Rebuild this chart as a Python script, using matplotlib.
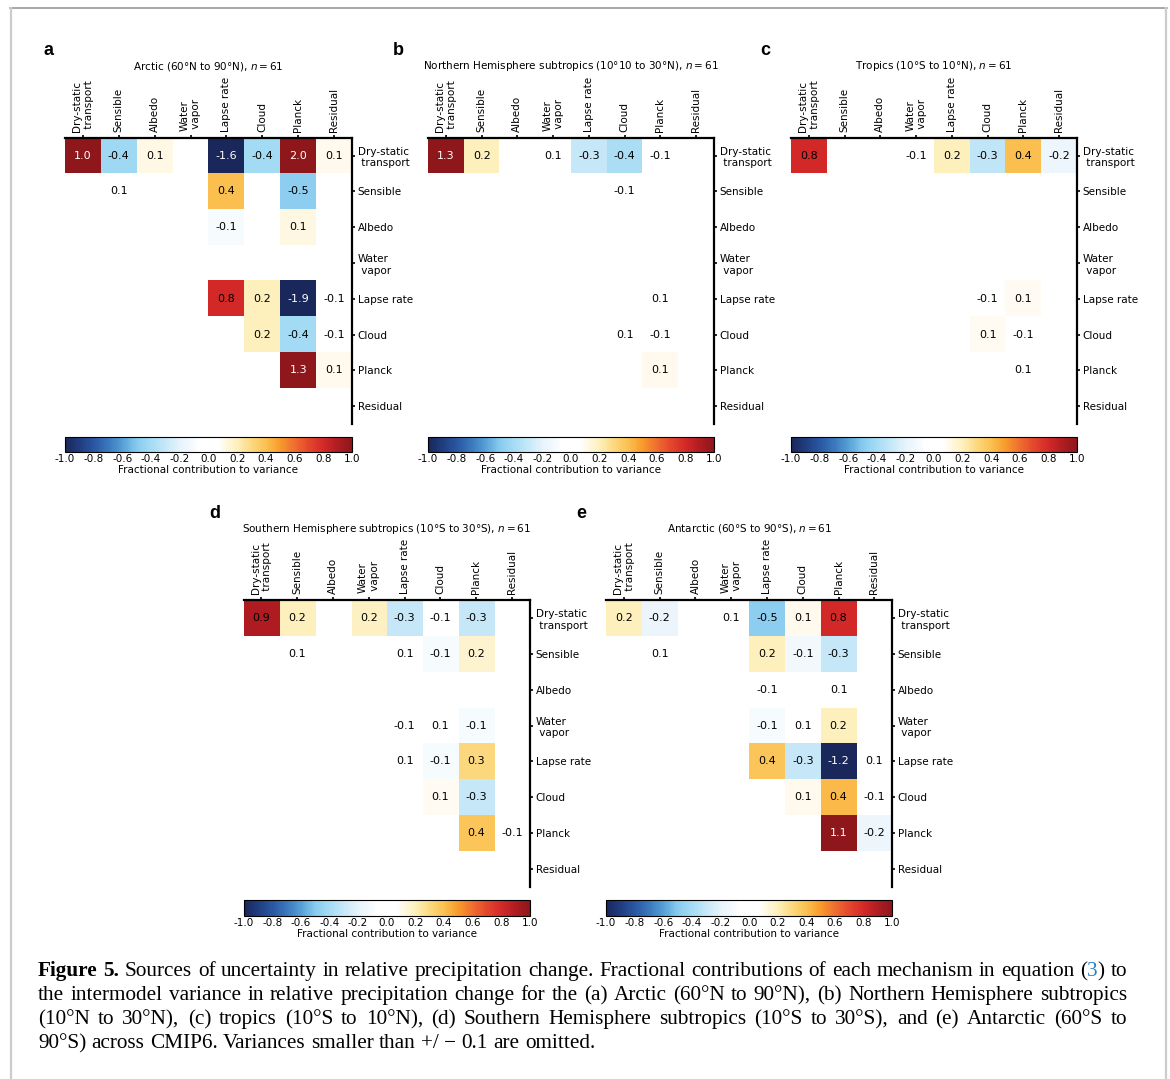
import numpy as np
import matplotlib
matplotlib.use("Agg")
import matplotlib.pyplot as plt
from matplotlib.colors import LinearSegmentedColormap, Normalize
from matplotlib.cm import ScalarMappable
from matplotlib.lines import Line2D

plt.rcParams["font.family"] = ["DejaVu Sans"]
plt.rcParams["mathtext.fontset"] = "dejavusans"

# ---------------- data ----------------
mechanisms = ["Dry-static\n transport", "Sensible", "Albedo", "Water\n vapor",
              "Lapse rate", "Cloud", "Planck", "Residual"]

N = None
arctic = [
    [1.0, -0.42, 0.11, N, -1.6, -0.4, 2.0, 0.1],
    [N, 0.06, N, N, 0.4, N, -0.48, N],
    [N, N, N, N, -0.1, N, 0.12, N],
    [N, N, N, N, N, N, N, N],
    [N, N, N, N, 0.8, 0.2, -1.9, -0.06],
    [N, N, N, N, N, 0.2, -0.4, -0.06],
    [N, N, N, N, N, N, 1.3, 0.1],
    [N, N, N, N, N, N, N, N],
]
nh_subtropics = [
    [1.3, 0.2, N, 0.06, -0.3, -0.38, -0.06, N],
    [N, N, N, N, N, -0.06, N, N],
    [N, N, N, N, N, N, N, N],
    [N, N, N, N, N, N, N, N],
    [N, N, N, N, N, N, 0.06, N],
    [N, N, N, N, N, 0.06, -0.06, N],
    [N, N, N, N, N, N, 0.1, N],
    [N, N, N, N, N, N, N, N],
]
tropics = [
    [0.8, N, N, -0.06, 0.2, -0.32, 0.4, -0.16],
    [N, N, N, N, N, N, N, N],
    [N, N, N, N, N, N, N, N],
    [N, N, N, N, N, N, N, N],
    [N, N, N, N, N, -0.06, 0.09, N],
    [N, N, N, N, N, 0.09, -0.06, N],
    [N, N, N, N, N, N, 0.06, N],
    [N, N, N, N, N, N, N, N],
]
sh_subtropics = [
    [0.9, 0.2, N, 0.18, -0.3, -0.06, -0.3, N],
    [N, 0.06, N, N, 0.06, -0.1, 0.16, N],
    [N, N, N, N, N, N, N, N],
    [N, N, N, N, -0.06, 0.06, -0.1, N],
    [N, N, N, N, 0.06, -0.1, 0.3, N],
    [N, N, N, N, N, 0.09, -0.3, N],
    [N, N, N, N, N, N, 0.38, -0.06],
    [N, N, N, N, N, N, N, N],
]
antarctic = [
    [0.2, -0.17, N, 0.06, -0.48, 0.1, 0.8, N],
    [N, 0.06, N, N, 0.2, -0.12, -0.3, N],
    [N, N, N, N, -0.06, N, 0.06, N],
    [N, N, N, N, -0.1, 0.06, 0.2, N],
    [N, N, N, N, 0.38, -0.3, -1.2, 0.06],
    [N, N, N, N, N, 0.1, 0.42, -0.06],
    [N, N, N, N, N, N, 1.1, -0.16],
    [N, N, N, N, N, N, N, N],
]

titles = [
    "Arctic (60°N to 90°N), $n=61$",
    "Northern Hemisphere subtropics (10°10 to 30°N), $n=61$",
    "Tropics (10°S to 10°N), $n=61$",
    "Southern Hemisphere subtropics (10°S to 30°S), $n=61$",
    "Antarctic (60°S to 90°S), $n=61$",
]
letters = ["a", "b", "c", "d", "e"]
cbar_ticks = [-1.0, -0.8, -0.6, -0.4, -0.2, 0.0, 0.2, 0.4, 0.6, 0.8, 1.0]
cbar_label = "Fractional contribution to variance"

caption_line1 = ("Sources of uncertainty in relative precipitation change. Fractional "
                 "contributions of each mechanism in equation")
caption_lines = [
    "the intermodel variance in relative precipitation change for the (a) Arctic (60°N to 90°N), (b) Northern Hemisphere subtropics",
    "(10°N to 30°N), (c) tropics (10°S to 10°N), (d) Southern Hemisphere subtropics (10°S to 30°S), and (e) Antarctic (60°S to",
    "90°S) across CMIP6. Variances smaller than +/ − 0.1 are omitted.",
]

# ---------------- colormap ----------------
anchors = [(-1.0, "#1a275a"), (-0.9, "#203d80"), (-0.8, "#2a57a2"), (-0.7, "#3a78bd"),
           (-0.6, "#55a0d6"), (-0.5, "#88cbee"), (-0.4, "#a5dcf5"), (-0.3, "#c6e8f8"),
           (-0.2, "#e6f3fb"), (-0.1, "#f6fbfe"), (-0.07, "#ffffff"), (0.07, "#ffffff"),
           (0.1, "#fffaec"), (0.2, "#fdf0bd"), (0.3, "#fcd97f"), (0.4, "#fbc150"),
           (0.5, "#f89b2c"), (0.6, "#ef6f2f"), (0.7, "#e4472c"), (0.8, "#d42a29"),
           (0.9, "#b01d22"), (1.0, "#8e171c")]
cmap = LinearSegmentedColormap.from_list("bwor", [((v + 1) / 2, c) for v, c in anchors])
norm = Normalize(vmin=-1, vmax=1)

# ---------------- figure ----------------
W, H = 1170, 1079
fig = plt.figure(figsize=(W / 100, H / 100), dpi=100)


def box(l, t, r, b):
    return [l / W, 1 - b / H, (r - l) / W, (b - t) / H]


panels = [
    (arctic, (65, 137.7, 352, 424), (437, 452)),
    (nh_subtropics, (428, 137.7, 714, 424), (437, 452)),
    (tropics, (791, 137.7, 1077, 424), (437, 452)),
    (sh_subtropics, (243.5, 600, 530, 887), (900, 915.5)),
    (antarctic, (606, 600, 892.3, 887), (900, 915.5)),
]
letter_pos = [(48.5, 50.5), (398, 50.5), (765, 50.5), (214.5, 514), (581, 514)]

for k, (mat, (l, t, r, b), (ct, cb)) in enumerate(panels):
    arr = np.array([[np.nan if v is None else v for v in row] for row in mat], dtype=float)
    ax = fig.add_axes(box(l, t, r, b))
    ax.imshow(np.ma.masked_invalid(arr), cmap=cmap, norm=norm, aspect="auto",
              interpolation="nearest", extent=(-0.5, 7.5, 7.5, -0.5))
    ax.set_xlim(-0.5, 7.5)
    ax.set_ylim(7.5, -0.5)
    for i in range(8):
        for j in range(8):
            v = arr[i, j]
            if np.isnan(v):
                continue
            col = "white" if abs(v) >= 0.95 else "black"
            ax.text(j, i, f"{v:.1f}", ha="center", va="center", fontsize=8, color=col)
    ax.spines["left"].set_visible(False)
    ax.spines["bottom"].set_visible(False)
    ax.spines["top"].set_linewidth(1.6)
    ax.spines["right"].set_linewidth(1.6)
    ax.xaxis.tick_top()
    ax.yaxis.tick_right()
    ax.set_xticks(range(8))
    ax.set_yticks(range(8))
    ax.set_xticklabels(mechanisms)
    ax.set_yticklabels(mechanisms)
    ax.tick_params(axis="x", labelrotation=90, length=2.5, width=1.2, pad=1.5, labelsize=7.5)
    ax.tick_params(axis="y", length=2.5, width=1.2, pad=1.5, labelsize=7.5)

    # colorbar
    cax = fig.add_axes(box(l, ct, r, cb))
    cbar = fig.colorbar(ScalarMappable(norm=norm, cmap=cmap), cax=cax,
                        orientation="horizontal", ticks=cbar_ticks)
    cbar.ax.set_xticklabels([f"{tv:.1f}" for tv in cbar_ticks])
    cbar.ax.tick_params(length=0, pad=1.5, labelsize=7.5)
    cbar.outline.set_linewidth(0.8)
    cbar.set_label(cbar_label, fontsize=7.5, labelpad=1)

    fig.text(((l + r) / 2) / W, 1 - (t - 71.5) / H, titles[k], ha="center", va="center",
             fontsize=7.5)
    lx, ly = letter_pos[k]
    fig.text(lx / W, 1 - ly / H, letters[k], ha="center", va="center", fontsize=13,
             fontweight="bold", family=["Liberation Sans", "DejaVu Sans"])

# ---------------- frame ----------------
fig.add_artist(Line2D([10 / W, 1167 / W], [1 - 8 / H, 1 - 8 / H], transform=fig.transFigure,
                      color="#9a9a9a", lw=1.2))
fig.add_artist(Line2D([11 / W, 11 / W], [0, 1 - 8 / H], transform=fig.transFigure,
                      color="#cccccc", lw=1.6))
fig.add_artist(Line2D([1166 / W, 1166 / W], [0, 1 - 8 / H], transform=fig.transFigure,
                      color="#cccccc", lw=1.6))

# ---------------- caption (justified) ----------------
renderer = fig.canvas.get_renderer()
serif = ["Liberation Serif", "DejaVu Serif"]
x0 = 38
x1 = 1127
blue = "#2a7fc0"


def width_of(s, fs, weight="normal"):
    tt = fig.text(0, 0, "|" + s + "|", fontsize=fs, family=serif, fontweight=weight)
    w1 = tt.get_window_extent(renderer).width
    tt.remove()
    tt = fig.text(0, 0, "||", fontsize=fs, family=serif, fontweight=weight)
    w2 = tt.get_window_extent(renderer).width
    tt.remove()
    return w1 - w2


line1_tokens = [[("Figure", "bold", "black")], [("5.", "bold", "black")]]
line1_tokens += [[(w, "normal", "black")] for w in caption_line1.split(" ")]
line1_tokens += [[("(", "normal", "black"), ("3", "normal", blue), (")", "normal", "black")],
                 [("to", "normal", "black")]]
all_lines = [line1_tokens] + [[[(w, "normal", "black")] for w in s.split(" ")]
                              for s in caption_lines]


def tok_widths(tokens, fs):
    return [sum(width_of(s, fs, wt) for s, wt, _ in tok) for tok in tokens]


fs0 = 14.0
gap0 = width_of(" ", fs0)
nat = sum(tok_widths(line1_tokens, fs0)) + gap0 * (len(line1_tokens) - 1)
fs = fs0 * (x1 - x0) / nat

baselines = [976, 1000, 1024, 1048]
natural_gap = width_of(" ", fs)
for li, tokens in enumerate(all_lines):
    widths = tok_widths(tokens, fs)
    if li < 3:
        gap = (x1 - x0 - sum(widths)) / (len(tokens) - 1)
    else:
        gap = natural_gap
    x = x0
    for tok, wtok in zip(tokens, widths):
        xs = x
        for s, wt, c in tok:
            fig.text(xs / W, 1 - baselines[li] / H, s, fontsize=fs, family=serif,
                     fontweight=wt, color=c, ha="left", va="baseline")
            xs += width_of(s, fs, wt)
        x += wtok + gap

fig.savefig("out.png", dpi=100)
